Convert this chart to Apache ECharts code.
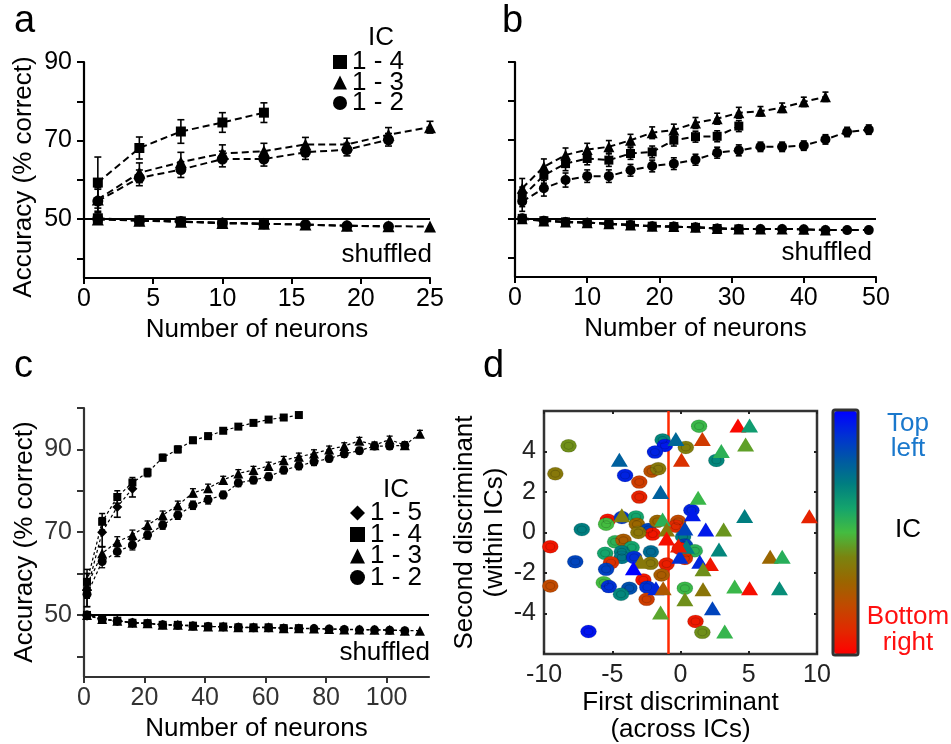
<!DOCTYPE html>
<html><head><meta charset="utf-8">
<script src="https://cdn.jsdelivr.net/npm/echarts@6/dist/echarts.min.js"></script>
<style>html,body{margin:0;padding:0;background:#fff}#c{width:951px;height:744px}</style>
</head><body><div id="c"></div>
<script>
// ---------- Panel a ----------
const aX = [1, 4, 7, 10, 13, 16, 19, 22, 25];
const aSq = [59.3, 68.1, 72.3, 74.6, 77.1];
const aSqErr = [6.5, 2.8, 3.0, 2.5, 2.5];
const aTri = [55.0, 61.8, 64.5, 66.7, 67.3, 69.0, 69.0, 71.5, 73.4];
const aTriErr = [3.0, 2.5, 2.5, 2.2, 2.0, 1.8, 1.6, 1.8, 1.5];
const aCir = [54.6, 60.5, 62.6, 65.3, 65.3, 67.0, 67.7, 70.2];
const aCirErr = [3.0, 2.0, 2.0, 2.0, 1.8, 1.8, 1.6, 1.6];
const aSqSh = [50.2, 49.7, 49.4, 49.0, 48.8];
const aTriSh = [49.9, 49.6, 49.3, 49.0, 48.8, 48.6, 48.3, 48.2, 48.1];
const aCirSh = [50.1, 49.6, 49.4, 49.0, 48.8, 48.6, 48.3, 48.1];

// ---------- Panel b ----------
const bX = [1, 4, 7, 10, 13, 16, 19, 22, 25, 28, 31, 34, 37, 40, 43, 46, 49];
const bSq = [55.5, 61.0, 64.0, 65.3, 64.9, 66.6, 67.0, 70.0, 70.9, 71.0, 73.6];
const bTri = [57.7, 63.2, 66.2, 67.6, 68.3, 70.0, 71.9, 72.6, 74.4, 75.5, 77.0, 77.4, 78.3, 79.8, 81.1];
const bCir = [54.3, 57.7, 59.8, 60.8, 60.8, 62.3, 63.4, 64.0, 65.0, 66.8, 67.4, 68.3, 68.3, 68.6, 70.2, 72.1, 72.7];
const bErr = [2.5, 2.0, 1.8, 1.6, 1.6, 1.5, 1.5, 1.5, 1.4, 1.4, 1.4, 1.2, 1.2, 1.2, 1.2, 1.2, 1.2];
const bSqSh = [50.0, 49.4, 49.1, 48.9, 48.6, 48.3, 48.0, 47.9, 47.7, 47.4, 47.3];
const bTriSh = [49.9, 49.3, 49.1, 48.9, 48.6, 48.3, 48.0, 47.9, 47.7, 47.4, 47.3, 47.3, 47.3, 47.2, 47.0];
const bCirSh = [50.0, 49.4, 49.1, 48.9, 48.6, 48.3, 48.0, 47.9, 47.7, 47.4, 47.3, 47.3, 47.3, 47.2, 47.0, 47.0, 47.0];

// ---------- Panel c ----------
const cX = [1, 6, 11, 16, 21, 26, 31, 36, 41, 46, 51, 56, 61, 66, 71, 76, 81, 86, 91, 96, 101, 106, 111];
const cDia = [56.0, 70.0, 76.1, 80.5];
const cDiaErr = [4.0, 3.5, 2.5, 2.0];
const cSq = [58.0, 72.5, 78.5, 82.0, 84.4, 88.0, 90.0, 92.2, 93.2, 94.5, 95.5, 96.4, 97.2, 97.7, 98.3];
const cSqErr = [3.0, 2.0, 1.5, 1.2, 1.0, 0.8, 0.8, 0.7, 0.7, 0.6, 0.6, 0.5, 0.5, 0.5, 0.5];
const cTri = [57.0, 64.9, 67.7, 69.3, 71.7, 74.1, 76.5, 79.5, 80.6, 82.6, 84.2, 85.0, 86.0, 87.4, 88.2, 89.0, 90.0, 90.8, 92.1, 91.0, 92.4, 91.0, 93.8];
const cCir = [55.0, 62.9, 65.3, 66.9, 69.3, 71.7, 74.1, 76.5, 77.8, 79.0, 81.9, 82.6, 83.4, 85.0, 86.0, 87.0, 87.8, 88.9, 89.7, 90.8, 90.8, 91.0];
const cErr = [3.0, 1.5, 1.2, 1.2, 1.0, 1.0, 1.0, 1.0, 1.0, 0.9, 0.9, 0.9, 0.9, 0.9, 0.9, 0.9, 0.8, 0.8, 0.8, 0.8, 0.8, 0.8, 0.8];
const cDiaSh = [49.8, 49.0, 48.6, 48.1];
const cSqSh = [50.0, 49.0, 48.6, 48.1, 48.0, 47.6, 47.6, 47.4, 47.2, 47.2, 47.0, 47.0, 47.0, 46.8, 46.8];
const cTriSh = [50.0, 49.0, 48.6, 48.1, 48.0, 47.6, 47.6, 47.4, 47.2, 47.2, 47.0, 47.0, 47.0, 46.8, 46.8, 46.7, 46.6, 46.5, 46.5, 46.4, 46.4, 46.2, 46.2];
const cCirSh = [50.0, 48.9, 48.5, 48.1, 47.9, 47.6, 47.5, 47.3, 47.2, 47.1, 47.0, 46.9, 46.9, 46.8, 46.7, 46.7, 46.6, 46.5, 46.4, 46.4, 46.3, 46.2];

// ---------- Panel d : [first discriminant, second discriminant, IC (0 = bottom right, 1 = top left)] ----------
const dCircles = [
  [1.36, 5.25, 0.52], [-8.2, 4.28, 0.42], [-9.17, 2.9, 0.36], [-1.31, 4.57, 0.68], [-1.14, 4.3, 0.95],
  [-1.87, 3.97, 0.93], [0.39, 4.2, 0.38], [2.63, 3.56, 0.68], [-4.06, 2.82, 0.93], [-2.12, 3.03, 0.22],
  [-1.63, 3.15, 0.36], [-3.02, 2.49, 0.16], [-3.02, 1.75, 0.08], [0.8, 1.1, 0.93], [-5.33, 0.61, 0.05],
  [-5.45, 0.41, 0.5], [-4.3, 0.74, 0.88], [-3.26, 0.77, 0.6], [-3.2, 0.41, 0.3], [-7.23, 0.15, 0.7],
  [-2.36, 0.15, 0.85], [-2.04, -0.08, 0.05], [-3.09, 0.0, 0.35], [-9.54, -0.7, 0.05], [-4.79, -0.46, 0.55],
  [-4.18, -0.38, 0.26], [-3.58, -0.74, 0.6], [-5.52, -1.03, 0.6], [-4.3, -0.95, 0.7], [-4.3, -1.23, 0.72],
  [-2.17, -0.95, 0.75], [-3.4, -1.23, 0.9], [-7.71, -1.44, 0.85], [-5.09, -1.49, 0.12], [-5.45, -1.82, 0.86],
  [-2.19, -1.52, 0.36], [-1.02, -1.56, 0.07], [-1.39, -2.1, 0.26], [-5.62, -2.48, 0.5], [-5.25, -2.67, 0.9],
  [-9.54, -2.64, 0.2], [-2.72, -2.34, 0.05], [-3.75, -2.75, 0.82], [-4.36, -3.05, 0.68], [-2.43, -2.7, 0.9],
  [-2.48, -3.3, 0.16], [0.32, -2.75, 0.52], [-6.74, -4.89, 0.96], [1.1, -4.39, 0.06], [1.6, -4.93, 0.42],
  [-0.17, 0.55, 0.2], [-0.34, 0.31, 0.1], [0.19, -0.21, 0.7], [0.32, -0.62, 0.85], [-0.05, -0.79, 0.05],
  [0.44, -1.03, 0.7], [1.05, -0.9, 0.55], [0.32, -1.28, 0.12], [-1.7, 0.55, 0.3]
];
const dTriangles = [
  [4.21, 5.28, 0.02], [5.06, 5.28, 0.62], [1.6, 4.62, 0.15], [4.77, 4.34, 0.45], [2.99, 4.02, 0.55],
  [-0.34, 4.62, 0.76], [-4.48, 3.59, 0.78], [0.07, 3.59, 0.12], [-1.46, 2.0, 0.78], [1.29, 1.72, 0.52],
  [-4.3, 0.85, 0.38], [-1.31, 0.64, 0.55], [0.88, 0.9, 0.95], [4.7, 0.82, 0.7], [9.44, 0.8, 0.08],
  [0.32, 0.2, 0.85], [1.85, 0.15, 0.95], [3.16, 0.15, 0.43], [-1.02, 0.15, 0.36], [-1.02, -0.3, 0.03],
  [0.44, -0.7, 0.7], [2.82, -0.84, 0.68], [-0.05, -1.2, 0.9], [-2.92, -1.44, 0.36], [-3.45, -1.77, 1.0],
  [1.41, -1.44, 0.92], [2.19, -1.56, 0.05], [1.65, -1.82, 0.42], [6.57, -1.2, 0.3], [7.45, -1.2, 0.56],
  [-1.8, -2.75, 0.92], [-1.27, -2.75, 0.25], [1.65, -2.8, 0.35], [3.97, -2.67, 0.52], [5.06, -2.75, 0.03],
  [7.25, -2.75, 0.66], [0.32, -3.3, 0.42], [2.34, -3.74, 0.85], [-1.46, -3.95, 0.46], [3.24, -4.89, 0.53],
  [-0.15, -0.64, 0.06]
];
const dDivider = -0.9;
const icColors = ['#ff0000', '#e02a00', '#c04a00', '#9a6600', '#7a8410', '#44bc40', '#14a46c', '#007e80', '#0058a4', '#0030d4', '#0000ff'];

// ---------- helpers ----------
const FONT = 'Liberation Sans, Arial, Helvetica, sans-serif';
const TICK = 25, TITLE = 26;
const pair = (xs, ys) => ys.map((v, i) => [xs[i], v]);
function line(name, xs, ys, g, symbol, size, small) {
  return {
    type: 'line', name, xAxisIndex: g, yAxisIndex: g, data: pair(xs, ys),
    symbol, symbolSize: size, showAllSymbol: true, animation: false,
    lineStyle: { color: '#000', width: small ? 1.2 : 2, type: small ? [3, 2.5] : [7, 4] },
    itemStyle: { color: '#000' }, z: 4
  };
}
function errBars(xs, ys, es, g, cap, lw) {
  return {
    type: 'custom', xAxisIndex: g, yAxisIndex: g, animation: false, silent: true, z: 3,
    data: ys.map((v, i) => [xs[i], v - es[i], v + es[i]]),
    encode: { x: 0, y: [1, 2] },
    renderItem: (p, api) => {
      const x = api.value(0);
      const lo = api.coord([x, api.value(1)]);
      const hi = api.coord([x, api.value(2)]);
      const st = { stroke: '#000', lineWidth: lw };
      return { type: 'group', children: [
        { type: 'line', shape: { x1: lo[0], y1: lo[1], x2: hi[0], y2: hi[1] }, style: st },
        { type: 'line', shape: { x1: lo[0] - cap, y1: lo[1], x2: lo[0] + cap, y2: lo[1] }, style: st },
        { type: 'line', shape: { x1: hi[0] - cap, y1: hi[1], x2: hi[0] + cap, y2: hi[1] }, style: st }
      ] };
    }
  };
}
const chanceLine = (col) => ({
  silent: true, symbol: 'none', animation: false,
  label: { show: false }, lineStyle: { color: col, type: 'solid', width: 2.2 },
  data: [{ yAxis: 50 }]
});
function accY(g, showLabels, col, max) {
  const ticks = max === 100 ? [40, 50, 60, 70, 80, 90, 100] : [40, 50, 60, 70, 80, 90];
  return {
    gridIndex: g, type: 'value', min: 35, max: max,
    axisLine: { show: true, onZero: false, lineStyle: { color: col, width: 2.2 } },
    axisTick: { show: true, length: 7, lineStyle: { color: col, width: 2 }, customValues: ticks },
    axisLabel: { show: showLabels, fontSize: TICK, fontFamily: FONT, color: col, margin: 12, customValues: [50, 70, 90] },
    splitLine: { show: false }
  };
}
function numX(g, max, interval, col, ticks) {
  const ax = {
    gridIndex: g, type: 'value', min: 0, max: max,
    axisLine: { show: true, onZero: false, lineStyle: { color: col, width: 2.2 } },
    axisTick: { show: true, length: 6, lineStyle: { color: col, width: 2 } },
    axisLabel: { fontSize: TICK, fontFamily: FONT, color: col, margin: 9 },
    splitLine: { show: false },
    name: 'Number of neurons', nameLocation: 'middle', nameGap: 39,
    nameTextStyle: { fontSize: TITLE, fontFamily: FONT, color: '#000' }
  };
  if (ticks) { ax.axisTick.customValues = ticks; ax.axisLabel.customValues = ticks; }
  else { ax.interval = interval; }
  return ax;
}
const txt = (x, y, t, opt, extra) => Object.assign({ type: 'text', x, y, style: Object.assign({ text: t, fontFamily: FONT, fontSize: TITLE, fill: '#000' }, opt || {}) }, extra || {});

const series = [
  // panel a
  errBars(aX, aSq, aSqErr, 0, 3.5, 1.6), errBars(aX, aTri, aTriErr, 0, 3.5, 1.6), errBars(aX, aCir, aCirErr, 0, 3.5, 1.6),
  Object.assign(line('1 - 4', aX, aSq, 0, 'rect', 10), { markLine: chanceLine('#000') }),
  line('1 - 3', aX, aTri, 0, 'triangle', 12),
  line('1 - 2', aX, aCir, 0, 'circle', 11),
  line('1 - 4 shuffled', aX, aSqSh, 0, 'rect', 10),
  line('1 - 3 shuffled', aX, aTriSh, 0, 'triangle', 12),
  line('1 - 2 shuffled', aX, aCirSh, 0, 'circle', 11),
  // panel b
  errBars(bX, bSq, bErr, 1, 3, 1.6), errBars(bX, bTri, bErr, 1, 3, 1.6), errBars(bX, bCir, bErr, 1, 3, 1.6),
  Object.assign(line('1 - 4', bX, bSq, 1, 'rect', 9), { markLine: chanceLine('#000') }),
  line('1 - 3', bX, bTri, 1, 'triangle', 11),
  line('1 - 2', bX, bCir, 1, 'circle', 10),
  line('1 - 4 shuffled', bX, bSqSh, 1, 'rect', 9),
  line('1 - 3 shuffled', bX, bTriSh, 1, 'triangle', 11),
  line('1 - 2 shuffled', bX, bCirSh, 1, 'circle', 10),
  // panel c
  errBars(cX, cDia, cDiaErr, 2, 3.5, 1.6), errBars(cX, cSq, cSqErr, 2, 3, 1.5), errBars(cX, cTri, cErr, 2, 3, 1.3), errBars(cX, cCir, cErr, 2, 3, 1.3),
  Object.assign(line('1 - 5', cX, cDia, 2, 'diamond', 10, true), { markLine: chanceLine('#000') }),
  line('1 - 4', cX, cSq, 2, 'rect', 8, true),
  line('1 - 3', cX, cTri, 2, 'triangle', 10, true),
  line('1 - 2', cX, cCir, 2, 'circle', 9, true),
  line('1 - 5 shuffled', cX, cDiaSh, 2, 'diamond', 10, true),
  line('1 - 4 shuffled', cX, cSqSh, 2, 'rect', 8, true),
  line('1 - 3 shuffled', cX, cTriSh, 2, 'triangle', 10, true),
  line('1 - 2 shuffled', cX, cCirSh, 2, 'circle', 9, true)
];
const dCircleIndex = series.length;
series.push({
  type: 'scatter', name: 'circle ICs', xAxisIndex: 3, yAxisIndex: 3, data: dCircles,
  symbol: 'circle', symbolSize: [16, 13], animation: false, z: 5,
  itemStyle: { borderColor: 'rgba(0,0,0,0.12)', borderWidth: 1, opacity: 1 },
  markLine: { silent: true, symbol: 'none', animation: false, label: { show: false },
    lineStyle: { color: '#ff2a00', type: 'solid', width: 2.5 }, data: [{ xAxis: dDivider }] }
});
series.push({
  type: 'scatter', name: 'circle rings', xAxisIndex: 3, yAxisIndex: 3, data: dCircles,
  symbol: 'circle', symbolSize: [9, 7], animation: false, z: 6, silent: true,
  itemStyle: { color: 'rgba(0,0,0,0)', borderColor: 'rgba(0,0,0,0.22)', borderWidth: 1 }
});
const dTriIndex = series.length;
series.push({
  type: 'scatter', name: 'triangle ICs', xAxisIndex: 3, yAxisIndex: 3, data: dTriangles,
  symbol: 'triangle', symbolSize: [17, 14], animation: false, z: 7,
  itemStyle: { opacity: 1 }
});

const dAxisStyle = { fontSize: TICK, fontFamily: FONT, color: '#222' };
const dTick = { inside: true, length: 3, lineStyle: { color: '#222', width: 2 } };
const option = {
  backgroundColor: '#fff',
  animation: false,
  grid: [
    { left: 84, top: 62, width: 346, height: 216 },
    { left: 515, top: 62, width: 361, height: 215 },
    { left: 84, top: 408, width: 345, height: 269 },
    { left: 544, top: 411, width: 273, height: 243, show: true, borderColor: '#333', borderWidth: 2.5, backgroundColor: '#fff' }
  ],
  xAxis: [
    numX(0, 25, 5, '#000'),
    numX(1, 50, 10, '#000'),
    numX(2, 114, null, '#333', [0, 20, 40, 60, 80, 100]),
    { gridIndex: 3, type: 'value', min: -10, max: 10, interval: 5,
      axisLine: { show: false, onZero: false }, axisTick: dTick,
      axisLabel: Object.assign({ margin: 9 }, dAxisStyle), splitLine: { show: false },
      name: 'First discriminant\n(across ICs)', nameLocation: 'middle', nameGap: 35,
      nameTextStyle: { fontSize: TITLE, fontFamily: FONT, color: '#000', lineHeight: 27 } },
    { gridIndex: 3, type: 'value', min: -10, max: 10, interval: 5, position: 'top',
      axisLine: { show: false, onZero: false }, axisTick: dTick,
      axisLabel: { show: false }, splitLine: { show: false } }
  ],
  yAxis: [
    accY(0, true, '#000', 90),
    accY(1, false, '#000', 90),
    accY(2, true, '#333', 100),
    { gridIndex: 3, type: 'value', min: -6, max: 6, interval: 2,
      axisLine: { show: false, onZero: false },
      axisTick: Object.assign({ customValues: [-4, -2, 0, 2, 4] }, dTick),
      axisLabel: Object.assign({ margin: 8, customValues: [-4, -2, 0, 2, 4] }, dAxisStyle), splitLine: { show: false },
      name: 'Second discriminant\n(within ICs)', nameLocation: 'middle', nameGap: 30, nameRotate: 90,
      nameTextStyle: { fontSize: TITLE, fontFamily: FONT, color: '#000', lineHeight: 30 } },
    { gridIndex: 3, type: 'value', min: -6, max: 6, position: 'right',
      axisLine: { show: false, onZero: false },
      axisTick: Object.assign({ customValues: [-4, -2, 0, 2, 4] }, dTick),
      axisLabel: { show: false }, splitLine: { show: false } }
  ],
  legend: [
    { left: 333, top: 49, padding: 0, orient: 'vertical', itemWidth: 14, itemHeight: 14, itemGap: -5.5, selectedMode: false,
      textStyle: { fontSize: TITLE, fontFamily: FONT, color: '#000' },
      data: [{ name: '1 - 4', icon: 'rect' }, { name: '1 - 3', icon: 'triangle' }, { name: '1 - 2', icon: 'circle' }] },
    { left: 350, top: 500, padding: 0, orient: 'vertical', itemWidth: 15, itemHeight: 15, itemGap: -4.5, selectedMode: false,
      textStyle: { fontSize: TITLE, fontFamily: FONT, color: '#000' },
      data: [{ name: '1 - 5', icon: 'diamond' }, { name: '1 - 4', icon: 'rect' }, { name: '1 - 3', icon: 'triangle' }, { name: '1 - 2', icon: 'circle' }] }
  ],
  visualMap: {
    type: 'continuous', min: 0, max: 1, dimension: 2, seriesIndex: [dCircleIndex, dTriIndex],
    left: 834, top: 411, itemWidth: 23, itemHeight: 243, padding: 0,
    calculable: false, hoverLink: false, text: null, showLabel: false,
    inRange: { color: icColors },
    textStyle: { color: 'rgba(0,0,0,0)', fontSize: 1 }
  },
  series: series,
  graphic: [
    txt(14, 41, 'a', { fontSize: 38, verticalAlign: 'bottom' }),
    txt(502, 41, 'b', { fontSize: 38, verticalAlign: 'bottom' }),
    txt(14, 386, 'c', { fontSize: 38, verticalAlign: 'bottom' }),
    txt(483, 386, 'd', { fontSize: 38, verticalAlign: 'bottom' }),
    txt(24, 177, 'Accuracy (% correct)', { align: 'center', verticalAlign: 'middle' }, { rotation: Math.PI / 2 }),
    txt(25, 542, 'Accuracy (% correct)', { align: 'center', verticalAlign: 'middle' }, { rotation: Math.PI / 2 }),
    txt(381, 38, 'IC', { align: 'center', verticalAlign: 'middle' }),
    txt(396, 490, 'IC', { align: 'center', verticalAlign: 'middle' }),
    txt(432, 255, 'shuffled', { align: 'right', verticalAlign: 'middle' }),
    txt(872, 253, 'shuffled', { align: 'right', verticalAlign: 'middle' }),
    txt(430, 653, 'shuffled', { align: 'right', verticalAlign: 'middle' }),
    txt(908, 436, 'Top\nleft', { align: 'center', verticalAlign: 'middle', fill: '#1a78cc', lineHeight: 25 }),
    txt(908, 530, 'IC', { align: 'center', verticalAlign: 'middle' }),
    txt(908, 630, 'Bottom\nright', { align: 'center', verticalAlign: 'middle', fill: '#ff1010', lineHeight: 26 }),
    { type: 'rect', shape: { x: 833, y: 410, width: 25, height: 245, r: 2 }, style: { fill: null, stroke: '#333', lineWidth: 3 }, z: 100 }
  ]
};
const chart = echarts.init(document.getElementById('c'), null, { renderer: 'canvas' });
chart.setOption(option);
</script></body></html>
